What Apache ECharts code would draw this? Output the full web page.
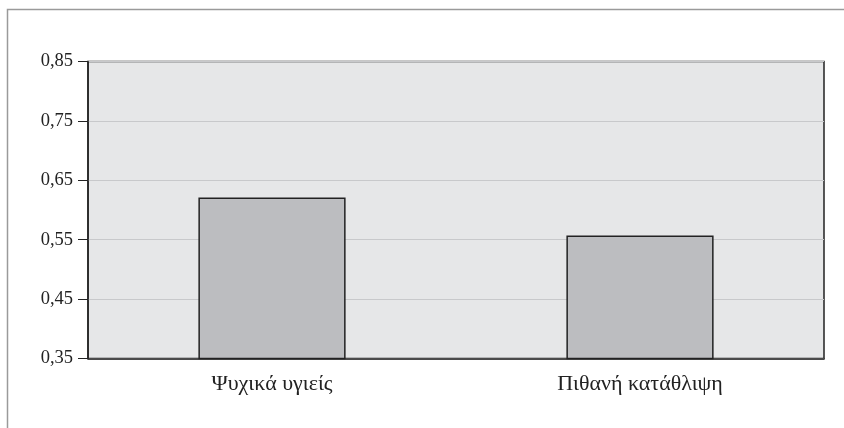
<!DOCTYPE html>
<html>
<head>
<meta charset="utf-8">
<script src="https://cdn.jsdelivr.net/npm/echarts@6/dist/echarts.min.js"></script>
<style>
  html, body { margin: 0; padding: 0; background: #fff; }
  #chart { width: 844px; height: 428px; }
</style>
</head>
<body>
<div id="chart"></div>
<script>
// κατηγορίες και τιμές
const categories = ['Ψυχικά υγιείς', 'Πιθανή κατάθλιψη']
const values = [0.621, 0.557]
const yMin = 0.35
const yMax = 0.85
const yStep = 0.1

const chart = echarts.init(document.getElementById('chart'))

const option = {
  animation: false,
  backgroundColor: '#fff',
  textStyle: { fontFamily: 'Liberation Serif' },
  // εξωτερικό πλαίσιο
  graphic: [
    {
      type: 'polyline',
      shape: { points: [[7.5, 428], [7.5, 9.5], [844, 9.5]] },
      style: { stroke: '#9a9a9a', lineWidth: 1.5, fill: null }
    }
  ],
  grid: {
    left: 88,
    right: 20,
    top: 61.5,
    bottom: 69.5,
    show: true,
    backgroundColor: '#e6e7e8',
    borderColor: '#222',
    borderWidth: 1.5
  },
  xAxis: {
    type: 'category',
    data: categories,
    axisLine: { lineStyle: { color: '#222', width: 1.5 } },
    axisTick: { show: false },
    axisLabel: {
      color: '#222',
      fontSize: 22,
      margin: 15,
      fontFamily: 'Liberation Serif'
    }
  },
  yAxis: {
    type: 'value',
    min: yMin,
    max: yMax,
    interval: yStep,
    axisLine: { show: true, lineStyle: { color: '#222', width: 1.5 } },
    axisTick: { show: true, length: 10, lineStyle: { color: '#222', width: 1 } },
    splitLine: { lineStyle: { color: '#c8c9cb', width: 1 } },
    axisLabel: {
      color: '#222',
      fontSize: 18.5,
      margin: 15,
      fontFamily: 'Liberation Serif',
      formatter: v => v.toFixed(2).replace('.', ',')
    }
  },
  series: [
    {
      type: 'bar',
      data: values,
      barWidth: '40%',
      itemStyle: {
        color: '#bcbdc0',
        borderColor: '#222',
        borderWidth: 1.5
      }
    }
  ]
}

chart.setOption(option)
</script>
</body>
</html>
